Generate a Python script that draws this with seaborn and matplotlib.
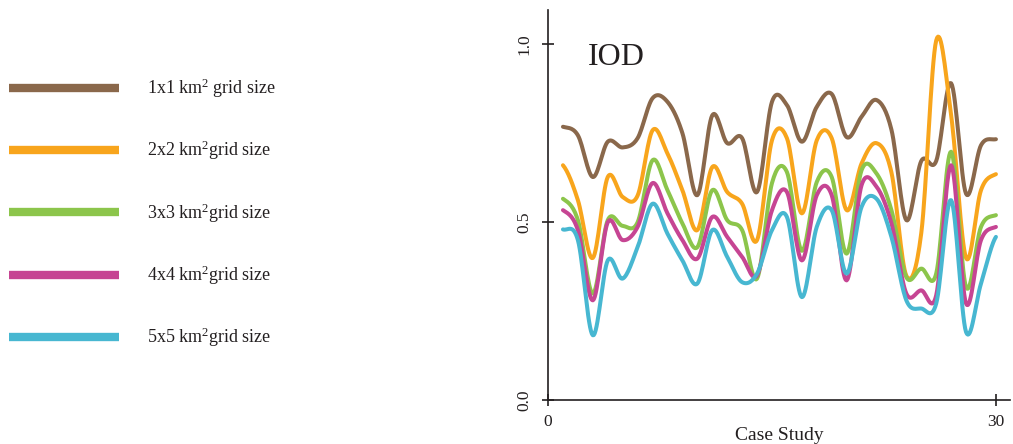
import numpy as np
import pandas as pd
import matplotlib
matplotlib.use("Agg")
import matplotlib.pyplot as plt
import seaborn as sns

# ---- data ----
case_study = list(range(1, 31))
grid_1x1 = [0.768, 0.744, 0.627, 0.726, 0.710, 0.736, 0.848, 0.838, 0.750, 0.576,
            0.800, 0.722, 0.736, 0.585, 0.838, 0.829, 0.726, 0.824, 0.860, 0.739,
            0.796, 0.843, 0.760, 0.506, 0.672, 0.672, 0.890, 0.580, 0.716, 0.733]
grid_2x2 = [0.660, 0.562, 0.400, 0.627, 0.571, 0.575, 0.758, 0.693, 0.590, 0.478,
            0.655, 0.585, 0.552, 0.450, 0.730, 0.736, 0.525, 0.730, 0.736, 0.534,
            0.665, 0.722, 0.640, 0.350, 0.470, 1.010, 0.800, 0.400, 0.590, 0.635]
grid_3x3 = [0.566, 0.506, 0.300, 0.506, 0.490, 0.500, 0.674, 0.590, 0.497, 0.430,
            0.590, 0.506, 0.478, 0.342, 0.610, 0.641, 0.420, 0.613, 0.627, 0.412,
            0.646, 0.637, 0.534, 0.346, 0.370, 0.356, 0.698, 0.318, 0.487, 0.520]
grid_4x4 = [0.534, 0.478, 0.281, 0.500, 0.450, 0.487, 0.610, 0.525, 0.450, 0.398,
            0.515, 0.459, 0.403, 0.351, 0.534, 0.585, 0.393, 0.576, 0.576, 0.337,
            0.604, 0.600, 0.497, 0.300, 0.309, 0.295, 0.660, 0.272, 0.450, 0.487]
grid_5x5 = [0.480, 0.450, 0.183, 0.393, 0.342, 0.430, 0.552, 0.468, 0.393, 0.328,
            0.478, 0.403, 0.332, 0.356, 0.478, 0.515, 0.290, 0.487, 0.534, 0.356,
            0.543, 0.566, 0.459, 0.281, 0.258, 0.272, 0.562, 0.192, 0.328, 0.459]

series_labels = ["1x1 km$^{2}$ grid size", "2x2 km$^{2}$grid size", "3x3 km$^{2}$grid size",
                 "4x4 km$^{2}$grid size", "5x5 km$^{2}$grid size"]
colors = ["#8A684B", "#F8A51C", "#8CC54B", "#C64593", "#47B7D1"]
x_ticks = [0, 30]
y_ticks = [0.0, 0.5, 1.0]
y_tick_labels = ["0.0", "0.5", "1.0"]


def smooth(xs, ys, n=16):
    """Catmull-Rom path through the data points (rendering only)."""
    xs = np.asarray(xs, float)
    ys = np.asarray(ys, float)
    px = np.concatenate([[2 * xs[0] - xs[1]], xs, [2 * xs[-1] - xs[-2]]])
    py = np.concatenate([[ys[0]], ys, [ys[-1]]])
    outx, outy = [], []
    t = np.linspace(0, 1, n, endpoint=False)
    for i in range(1, len(px) - 2):
        for P, out in ((px, outx), (py, outy)):
            p0, p1, p2, p3 = P[i - 1], P[i], P[i + 1], P[i + 2]
            out.extend(0.5 * ((2 * p1) + (-p0 + p2) * t
                              + (2 * p0 - 5 * p1 + 4 * p2 - p3) * t ** 2
                              + (-p0 + 3 * p1 - 3 * p2 + p3) * t ** 3))
    outx.append(xs[-1])
    outy.append(ys[-1])
    return np.array(outx), np.array(outy)


frames = []
for lab, vals in zip(series_labels,
                     [grid_1x1, grid_2x2, grid_3x3, grid_4x4, grid_5x5]):
    sx, sy = smooth(case_study, vals)
    frames.append(pd.DataFrame({"Case Study": sx, "IOD": sy, "series": lab}))
df = pd.concat(frames, ignore_index=True)

sns.set_style("ticks")
plt.rcParams["font.family"] = ["Liberation Serif", "DejaVu Serif"]
plt.rcParams["mathtext.fontset"] = "custom"
plt.rcParams["mathtext.rm"] = "Liberation Serif"
plt.rcParams["mathtext.it"] = "Liberation Serif"
plt.rcParams["mathtext.default"] = "rm"

fig = plt.figure(figsize=(10.13, 4.44), dpi=100)
ax = fig.add_axes([0.541, 0.098, 0.456, 0.879])

sns.lineplot(data=df, x="Case Study", y="IOD", hue="series",
             hue_order=series_labels, palette=colors, sort=False,
             estimator=None, units="series", linewidth=2.9, ax=ax, legend=True)

ax.set_xlim(0, 30.94)
ax.set_ylim(0, 1.095)
ax.set_xticks(x_ticks)
ax.set_yticks(y_ticks)
ax.set_yticklabels(y_tick_labels, rotation=90, va="center")
ax.tick_params(axis="both", direction="inout", length=9, width=1.2,
               color="#231F20", labelsize=12.5, labelcolor="#231F20")
ax.tick_params(axis="y", pad=7)
ax.tick_params(axis="x", pad=5)
sns.despine(ax=ax)
for s in ("left", "bottom"):
    ax.spines[s].set_linewidth(1.2)
    ax.spines[s].set_color("#231F20")
ax.set_xlabel("Case Study", fontsize=14, color="#231F20", labelpad=-2)
ax.set_ylabel("")
ax.text(0.087, 0.859, "IOD", transform=ax.transAxes, fontsize=23,
        color="#231F20", va="baseline", ha="left")

handles, labels = ax.get_legend_handles_labels()
ax.get_legend().remove()
for h in handles:
    h.set_linewidth(6)
    h.set_solid_capstyle("butt")
fig.legend(handles, labels, loc="upper left", bbox_to_anchor=(0.009, 0.827),
           frameon=False, fontsize=13, handlelength=6.1, handletextpad=1.55,
           labelspacing=2.15, borderpad=0, borderaxespad=0,
           labelcolor="#231F20")

fig.savefig("out.png", dpi=100)
